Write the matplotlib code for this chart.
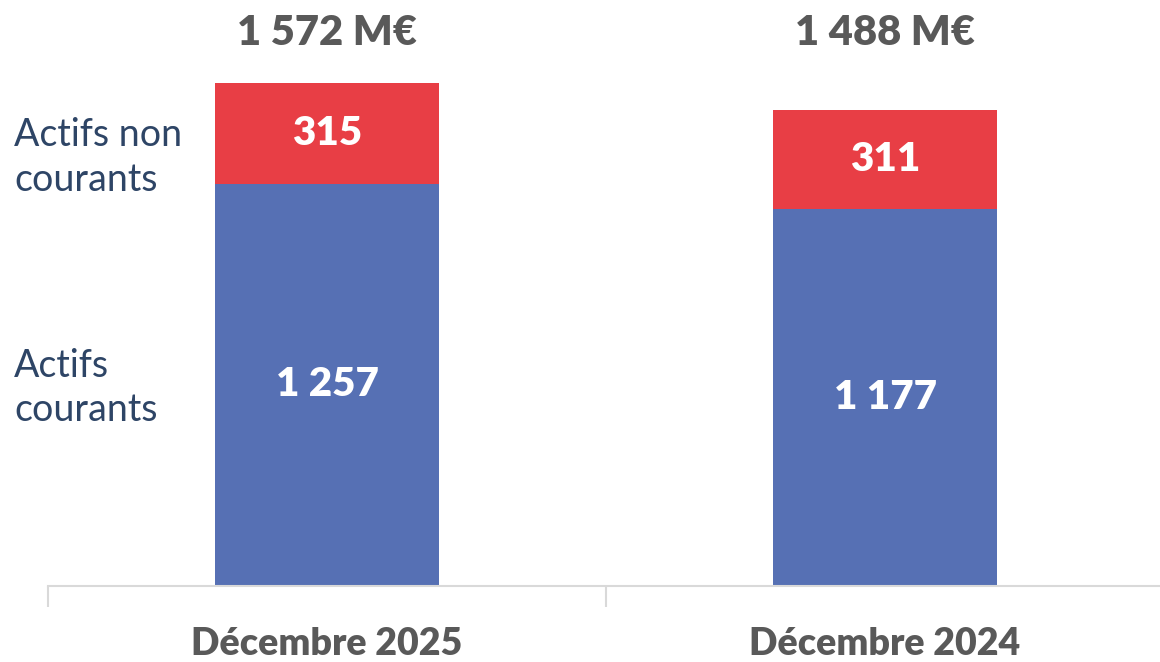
import matplotlib.pyplot as plt
from matplotlib import transforms

periods = ["Décembre 2025", "Décembre 2024"]
actifs_courants = [1257, 1177]
actifs_non_courants = [315, 311]
series_labels = ["Actifs\ncourants", "Actifs non\ncourants"]

blue = "#5670B4"
red = "#E83E45"
grey = "#595959"
navy = "#2E4566"

def fmt(v):
    return f"{v:,}".replace(",", " ")

plt.rcParams["font.family"] = ["Lato", "DejaVu Sans"]

fig = plt.figure(figsize=(11.6, 6.62), dpi=100)
ax = fig.add_axes([48 / 1160, 76 / 662, 1116 / 1160, 586 / 662])

x = list(range(len(periods)))
totals = [a + b for a, b in zip(actifs_courants, actifs_non_courants)]

ax.bar(x, actifs_courants, width=0.4, color=blue)
ax.bar(x, actifs_non_courants, width=0.4, bottom=actifs_courants, color=red)

ax.set_xlim(-0.5, 1.5)
ax.set_ylim(0, 1831)

top_tr = transforms.blended_transform_factory(ax.transData, ax.transAxes)
for i in x:
    ax.text(i, actifs_courants[i] / 2, fmt(actifs_courants[i]), ha="center", va="center",
            color="white", fontsize=29, fontweight="heavy")
    ax.text(i, actifs_courants[i] + actifs_non_courants[i] / 2, fmt(actifs_non_courants[i]),
            ha="center", va="center", color="white", fontsize=29, fontweight="heavy")
    ax.text(i, 1 - 33 / 586, fmt(totals[i]) + " M€", ha="center", va="center",
            color=grey, fontsize=30, fontweight="heavy", transform=top_tr)
    ax.text(i, -58 / 586, periods[i], ha="center", va="center", color=grey,
            fontsize=27, fontweight="heavy", transform=top_tr)

# series labels on the left, lined up with the first bar's segments
lbl_tr = transforms.blended_transform_factory(fig.transFigure, ax.transData)
ax.text(14 / 1160, actifs_courants[0] / 2 - 10, series_labels[0], ha="left", va="center",
        color=navy, fontsize=27, linespacing=1.3, transform=lbl_tr)
ax.text(14 / 1160, actifs_courants[0] + actifs_non_courants[0] / 2 - 75, series_labels[1],
        ha="left", va="center", color=navy, fontsize=27, linespacing=1.3, transform=lbl_tr)

for s in ["top", "right", "left"]:
    ax.spines[s].set_visible(False)
ax.spines["bottom"].set_color("#D9D9D9")
ax.spines["bottom"].set_linewidth(1.5)
ax.set_yticks([])
ax.set_xticks([-0.5, 0.5, 1.5])
ax.set_xticklabels([])
ax.tick_params(axis="x", length=15, width=1.5, color="#D9D9D9")

fig.savefig("out.png", dpi=100)
